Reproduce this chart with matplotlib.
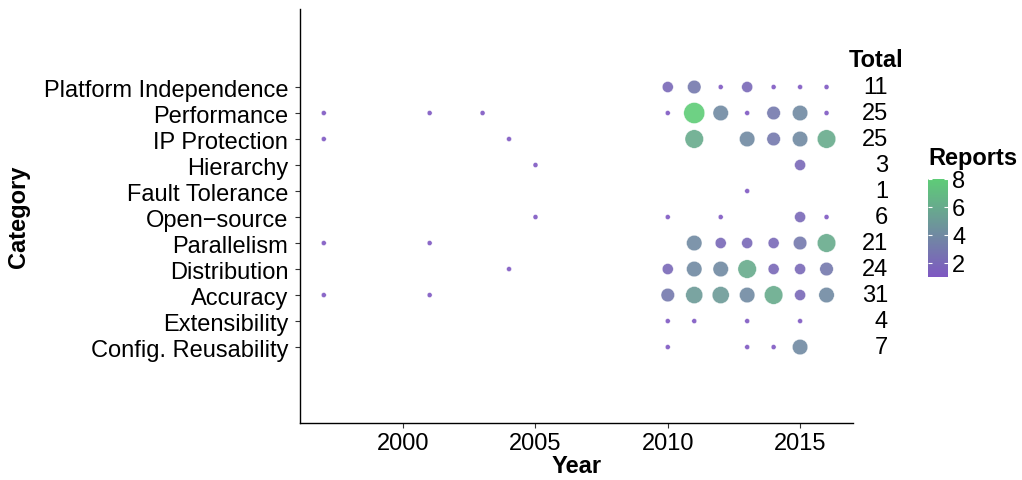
import numpy as np
import matplotlib as mpl

mpl.use('Agg')
import matplotlib.pyplot as plt
from matplotlib.colors import LinearSegmentedColormap, Normalize

plt.rcParams['font.family'] = ['Liberation Sans', 'DejaVu Sans']

categories = ["Config. Reusability", "Extensibility", "Accuracy", "Distribution",
              "Parallelism", "Open\u2212source", "Fault Tolerance", "Hierarchy",
              "IP Protection", "Performance", "Platform Independence"]

# reports per (category, year)
reports = {
    "Platform Independence": {2010: 2, 2011: 3, 2012: 1, 2013: 2, 2014: 1, 2015: 1, 2016: 1},
    "Performance": {1997: 1, 2001: 1, 2003: 1, 2010: 1, 2011: 8, 2012: 4, 2013: 1,
                    2014: 3, 2015: 4, 2016: 1},
    "IP Protection": {1997: 1, 2004: 1, 2011: 6, 2013: 4, 2014: 3, 2015: 4, 2016: 6},
    "Hierarchy": {2005: 1, 2015: 2},
    "Fault Tolerance": {2013: 1},
    "Open\u2212source": {2005: 1, 2010: 1, 2012: 1, 2015: 2, 2016: 1},
    "Parallelism": {1997: 1, 2001: 1, 2011: 4, 2012: 2, 2013: 2, 2014: 2, 2015: 3, 2016: 6},
    "Distribution": {2004: 1, 2010: 2, 2011: 4, 2012: 4, 2013: 6, 2014: 2, 2015: 2, 2016: 3},
    "Accuracy": {1997: 1, 2001: 1, 2010: 3, 2011: 5, 2012: 5, 2013: 4, 2014: 6,
                 2015: 2, 2016: 4},
    "Extensibility": {2010: 1, 2011: 1, 2013: 1, 2015: 1},
    "Config. Reusability": {2010: 1, 2013: 1, 2014: 1, 2015: 4},
}

xs, ys, cs = [], [], []
for i, cat in enumerate(categories):
    for yr, n in reports[cat].items():
        xs.append(yr)
        ys.append(i + 1)
        cs.append(n)
xs = np.array(xs)
ys = np.array(ys)
cs = np.array(cs)

# ggplot-like area scale: diameter 5..21 px
diam_px = 5 + 16 * np.sqrt((cs - 1) / 7.0)
sizes = (diam_px * 0.72) ** 2

cmap = LinearSegmentedColormap.from_list("rep", ["#7E58C2", "#5ECC77"])
norm = Normalize(vmin=1, vmax=8)

FS = 17

fig = plt.figure(figsize=(10.22, 4.81), dpi=100)
ax = fig.add_axes([300 / 1022, 57 / 481, 553 / 1022, 414 / 481])

order = np.argsort(cs)
sc = ax.scatter(xs[order], ys[order], s=sizes[order], c=cs[order], cmap=cmap, norm=norm,
                alpha=0.9, edgecolors='white', linewidths=0.3, zorder=3)

ax.set_xlim(1996.1, 2017.0)
ax.set_ylim(-1.92, 14.0)
ax.set_xticks([2000, 2005, 2010, 2015])
ax.set_yticks(range(1, len(categories) + 1))
ax.set_yticklabels(categories)
ax.tick_params(axis='both', labelsize=FS, length=3.5, width=0.8, color='#333333',
               labelcolor='black')
ax.tick_params(axis='y', pad=5)
ax.tick_params(axis='x', pad=3)
for s in ['top', 'right']:
    ax.spines[s].set_visible(False)
for s in ['left', 'bottom']:
    ax.spines[s].set_linewidth(1.0)
    ax.spines[s].set_color('black')

ax.set_xlabel("Year", fontsize=FS, fontweight='bold', labelpad=0)
ax.set_ylabel("Category", fontsize=FS, fontweight='bold', labelpad=10)

# totals column
trans = mpl.transforms.blended_transform_factory(fig.transFigure, ax.transData)
for i, cat in enumerate(categories):
    total = sum(reports[cat].values())
    fig.text(888 / 1022, i + 1, str(total), transform=trans, ha='right', va='center',
             fontsize=FS)
fig.text(876 / 1022, 1 - 61 / 481, "Total", ha='center', va='center', fontsize=FS,
         fontweight='bold')

# colourbar
cax = fig.add_axes([928 / 1022, 1 - 278 / 481, 20 / 1022, 98 / 481])
cb = fig.colorbar(mpl.cm.ScalarMappable(norm=norm, cmap=cmap), cax=cax)
cb.outline.set_visible(False)
cb.set_ticks([2, 4, 6, 8])
cax.tick_params(labelsize=FS, color='white', direction='in', length=3, width=0.8,
                left=True, right=True, pad=3)
fig.text(928 / 1022, 1 - 158 / 481, "Reports", ha='left', va='center', fontsize=FS,
         fontweight='bold')

fig.savefig("out.png", dpi=100)
